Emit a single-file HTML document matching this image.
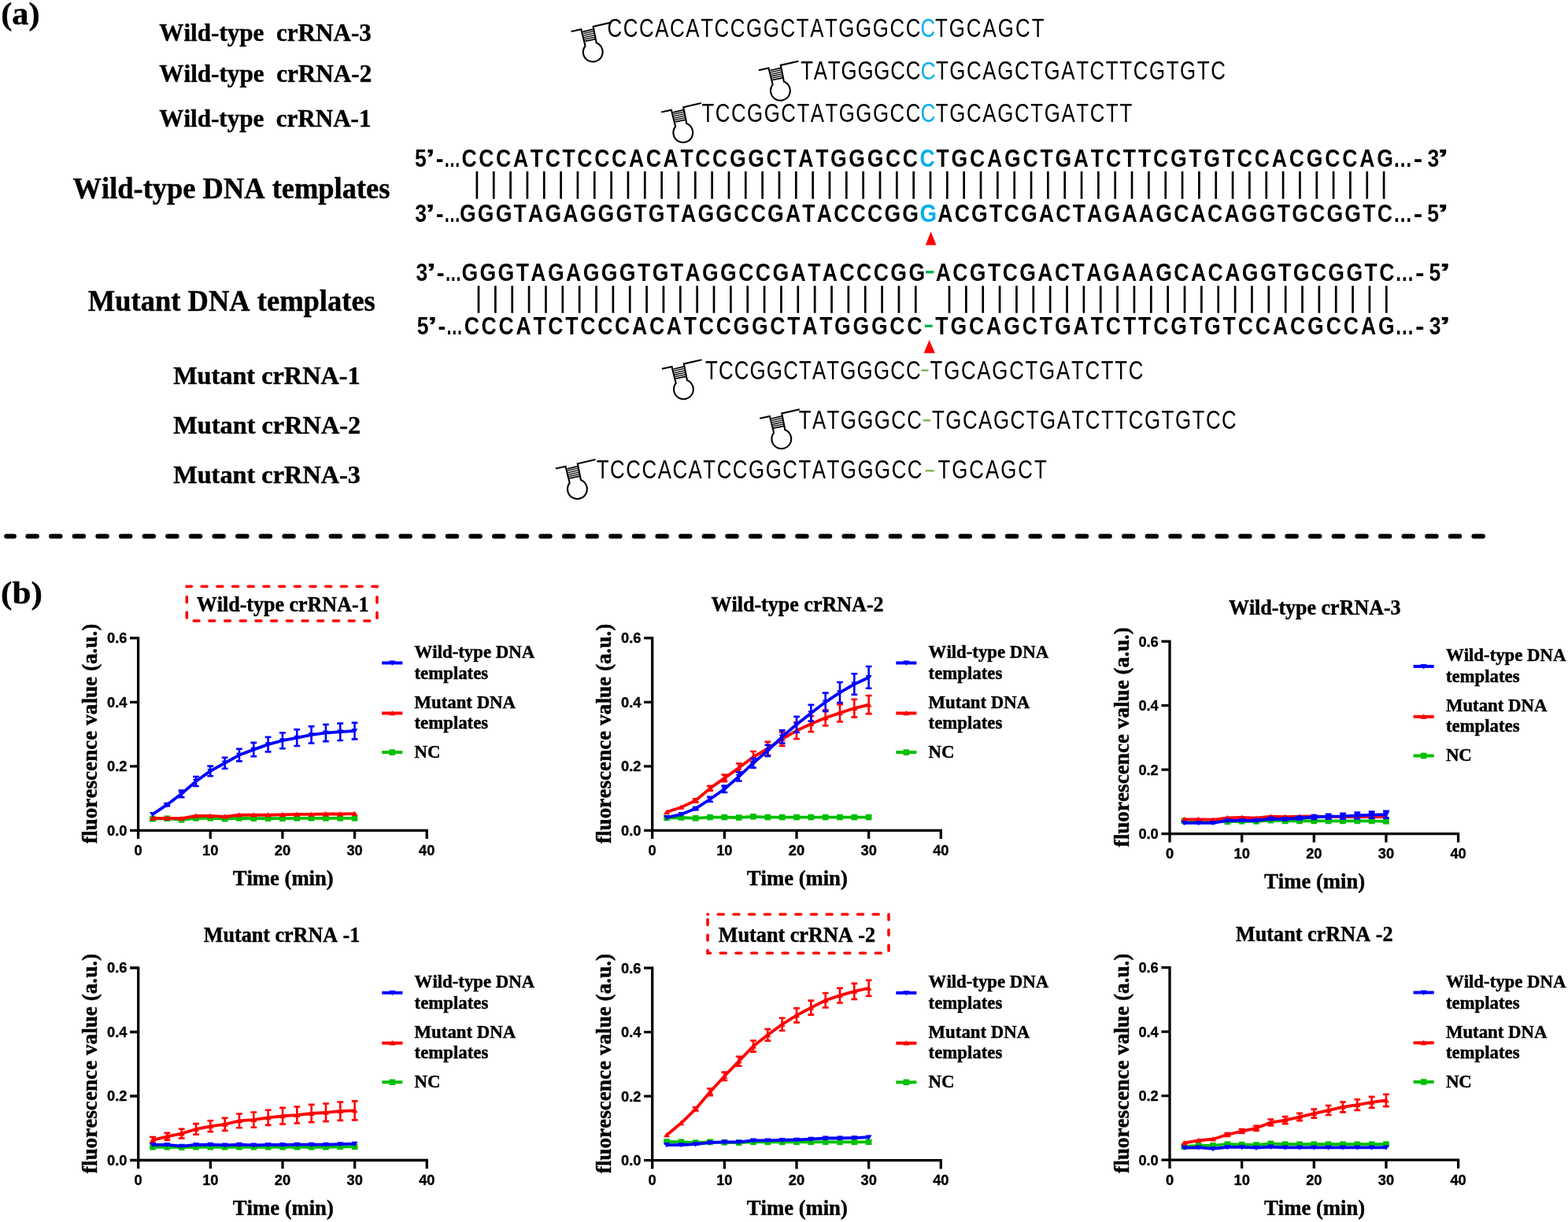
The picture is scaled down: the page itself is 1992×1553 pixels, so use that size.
<!DOCTYPE html><html><head><meta charset="utf-8"><title>crRNA figure</title>
<style>html,body{margin:0;padding:0;background:#fff;}svg{display:block;} text{font-kerning:none;font-variant-ligatures:none;font-feature-settings:"kern" 0,"liga" 0;} .sb{stroke:#000;stroke-width:0.45px;} .tb{stroke:#000;stroke-width:0.35px;}</style></head><body>
<svg width="1992" height="1553" viewBox="0 0 1992 1553">
<rect width="1992" height="1553" fill="#fff"/>
<text class="sb" transform="scale(1.06203,1)" x="1.07" y="30.5" font-family='"Liberation Serif", "Times New Roman", serif' font-size="40" font-weight="bold" fill="#000">(a)</text>
<text class="sb" transform="scale(0.95735,1)" x="211.37" y="51.6" font-family='"Liberation Serif", "Times New Roman", serif' font-size="32.5" font-weight="bold" fill="#000">Wild-type  crRNA-3</text>
<text class="sb" transform="scale(0.95833,1)" x="211.16" y="104.2" font-family='"Liberation Serif", "Times New Roman", serif' font-size="32.5" font-weight="bold" fill="#000">Wild-type  crRNA-2</text>
<text class="sb" transform="scale(0.95609,1)" x="211.65" y="160.6" font-family='"Liberation Serif", "Times New Roman", serif' font-size="32.5" font-weight="bold" fill="#000">Wild-type  crRNA-1</text>
<text class="sb" transform="scale(0.97219,1)" x="95.23" y="252.3" font-family='"Liberation Serif", "Times New Roman", serif' font-size="37.5" font-weight="bold" fill="#000">Wild-type DNA templates</text>
<text class="sb" transform="scale(0.97405,1)" x="114.75" y="394.8" font-family='"Liberation Serif", "Times New Roman", serif' font-size="37.5" font-weight="bold" fill="#000">Mutant DNA templates</text>
<text class="sb" transform="scale(0.99349,1)" x="221.59" y="488" font-family='"Liberation Serif", "Times New Roman", serif' font-size="32.5" font-weight="bold" fill="#000">Mutant crRNA-1</text>
<text class="sb" transform="scale(0.99609,1)" x="221.01" y="551.2" font-family='"Liberation Serif", "Times New Roman", serif' font-size="32.5" font-weight="bold" fill="#000">Mutant crRNA-2</text>
<text class="sb" transform="scale(0.99489,1)" x="221.28" y="614.4" font-family='"Liberation Serif", "Times New Roman", serif' font-size="32.5" font-weight="bold" fill="#000">Mutant crRNA-3</text>
<g transform="translate(776.3,28.6)" fill="none" stroke="#000" stroke-width="2.1" stroke-linejoin="miter">
<path d="M-50.7 11.5 L-38 8.6 L-33.2 27.9 L-32.9 29.9 A12.4 12.4 0 1 0 -18.6 25.95 L-22.7 5.1 L0 0"/>
<line x1="-35.9" y1="11.7" x2="-22.7" y2="8.6" stroke-width="1.7"/>
<line x1="-35.36" y1="14.12" x2="-22.08" y2="11.1" stroke-width="1.3"/>
<line x1="-34.82" y1="16.54" x2="-21.46" y2="13.6" stroke-width="1.3"/>
<line x1="-34.28" y1="18.96" x2="-20.84" y2="16.1" stroke-width="1.3"/>
<line x1="-33.74" y1="21.38" x2="-20.22" y2="18.6" stroke-width="1.3"/>
<line x1="-33.2" y1="23.8" x2="-19.6" y2="21.1" stroke-width="1.7"/>
</g>
<text transform="scale(0.80000,1)" x="964.36 989.69 1015.01 1040.34 1063.88 1089.21 1112.75 1134.48 1159.81 1185.13 1212.25 1239.38 1264.7 1286.43 1309.98 1331.71 1358.83 1385.95 1413.08 1438.4" y="46.6" font-family='"Liberation Sans", Arial, sans-serif' font-size="32.3" font-weight="normal" fill="#000">CCCACATCCGGCTATGGGCC</text>
<text transform="scale(0.79685,1)" x="1467.78" y="46.6" font-family='"Liberation Sans", Arial, sans-serif' font-size="32.3" font-weight="normal" fill="#00AEEF">C</text>
<text transform="scale(0.80000,1)" x="1484.9 1507.18 1534.86 1560.74 1584.83 1612.51 1638.39" y="46.6" font-family='"Liberation Sans", Arial, sans-serif' font-size="32.3" font-weight="normal" fill="#000">TGCAGCT</text>
<g transform="translate(1014.5,77.8)" fill="none" stroke="#000" stroke-width="2.1" stroke-linejoin="miter">
<path d="M-50.7 11.5 L-38 8.6 L-33.2 27.9 L-32.9 29.9 A12.4 12.4 0 1 0 -18.6 25.95 L-22.7 5.1 L0 0"/>
<line x1="-35.9" y1="11.7" x2="-22.7" y2="8.6" stroke-width="1.7"/>
<line x1="-35.36" y1="14.12" x2="-22.08" y2="11.1" stroke-width="1.3"/>
<line x1="-34.82" y1="16.54" x2="-21.46" y2="13.6" stroke-width="1.3"/>
<line x1="-34.28" y1="18.96" x2="-20.84" y2="16.1" stroke-width="1.3"/>
<line x1="-33.74" y1="21.38" x2="-20.22" y2="18.6" stroke-width="1.3"/>
<line x1="-33.2" y1="23.8" x2="-19.6" y2="21.1" stroke-width="1.7"/>
</g>
<text transform="scale(0.80000,1)" x="1271.52 1292.28 1314.85 1335.6 1361.75 1387.9 1414.05 1438.4" y="100.9" font-family='"Liberation Sans", Arial, sans-serif' font-size="32.3" font-weight="normal" fill="#000">TATGGGCC</text>
<text transform="scale(0.82618,1)" x="1415.61" y="100.9" font-family='"Liberation Sans", Arial, sans-serif' font-size="32.3" font-weight="normal" fill="#00AEEF">C</text>
<text transform="scale(0.80000,1)" x="1486.15 1507.91 1535.06 1560.41 1583.99 1611.14 1636.49 1658.25 1685.4 1708.97 1730.73 1756.09 1777.85 1799.6 1824.96 1852.11 1873.87 1901.02 1922.78" y="100.9" font-family='"Liberation Sans", Arial, sans-serif' font-size="32.3" font-weight="normal" fill="#000">TGCAGCTGATCTTCGTGTC</text>
<g transform="translate(890.9,131.1)" fill="none" stroke="#000" stroke-width="2.1" stroke-linejoin="miter">
<path d="M-50.7 11.5 L-38 8.6 L-33.2 27.9 L-32.9 29.9 A12.4 12.4 0 1 0 -18.6 25.95 L-22.7 5.1 L0 0"/>
<line x1="-35.9" y1="11.7" x2="-22.7" y2="8.6" stroke-width="1.7"/>
<line x1="-35.36" y1="14.12" x2="-22.08" y2="11.1" stroke-width="1.3"/>
<line x1="-34.82" y1="16.54" x2="-21.46" y2="13.6" stroke-width="1.3"/>
<line x1="-34.28" y1="18.96" x2="-20.84" y2="16.1" stroke-width="1.3"/>
<line x1="-33.74" y1="21.38" x2="-20.22" y2="18.6" stroke-width="1.3"/>
<line x1="-33.2" y1="23.8" x2="-19.6" y2="21.1" stroke-width="1.7"/>
</g>
<text transform="scale(0.80000,1)" x="1114.4 1136 1161.2 1186.4 1213.4 1240.39 1265.59 1287.2 1310.61 1332.21 1359.21 1386.21 1413.21 1438.4" y="155" font-family='"Liberation Sans", Arial, sans-serif' font-size="32.3" font-weight="normal" fill="#000">TCCGGCTATGGGCC</text>
<text transform="scale(0.81151,1)" x="1441.22" y="155" font-family='"Liberation Sans", Arial, sans-serif' font-size="32.3" font-weight="normal" fill="#00AEEF">C</text>
<text transform="scale(0.80000,1)" x="1485.9 1507.7 1534.9 1560.3 1583.92 1611.11 1636.51 1658.32 1685.51 1709.13 1730.93 1756.33 1778.14" y="155" font-family='"Liberation Sans", Arial, sans-serif' font-size="32.3" font-weight="normal" fill="#000">TGCAGCTGATCTT</text>
<g transform="translate(891.5,457.3)" fill="none" stroke="#000" stroke-width="2.1" stroke-linejoin="miter">
<path d="M-50.7 11.5 L-38 8.6 L-33.2 27.9 L-32.9 29.9 A12.4 12.4 0 1 0 -18.6 25.95 L-22.7 5.1 L0 0"/>
<line x1="-35.9" y1="11.7" x2="-22.7" y2="8.6" stroke-width="1.7"/>
<line x1="-35.36" y1="14.12" x2="-22.08" y2="11.1" stroke-width="1.3"/>
<line x1="-34.82" y1="16.54" x2="-21.46" y2="13.6" stroke-width="1.3"/>
<line x1="-34.28" y1="18.96" x2="-20.84" y2="16.1" stroke-width="1.3"/>
<line x1="-33.74" y1="21.38" x2="-20.22" y2="18.6" stroke-width="1.3"/>
<line x1="-33.2" y1="23.8" x2="-19.6" y2="21.1" stroke-width="1.7"/>
</g>
<text transform="scale(0.80000,1)" x="1119.9 1141.11 1165.91 1190.72 1217.32 1243.92 1268.73 1289.94 1312.96 1334.17 1360.77 1387.37 1413.97 1438.78" y="481.6" font-family='"Liberation Sans", Arial, sans-serif' font-size="32.3" font-weight="normal" fill="#000">TCCGGCTATGGGCC</text>
<rect x="1170.5" y="469.6" width="9" height="2.2" fill="#74AD4A"/>
<text transform="scale(0.80000,1)" x="1477.02 1498.92 1526.21 1551.7 1575.42 1602.71 1628.2 1650.1 1677.39 1701.1 1722.99 1748.49 1770.38 1792.28" y="481.6" font-family='"Liberation Sans", Arial, sans-serif' font-size="32.3" font-weight="normal" fill="#000">TGCAGCTGATCTTC</text>
<g transform="translate(1015.9,520.3)" fill="none" stroke="#000" stroke-width="2.1" stroke-linejoin="miter">
<path d="M-50.7 11.5 L-38 8.6 L-33.2 27.9 L-32.9 29.9 A12.4 12.4 0 1 0 -18.6 25.95 L-22.7 5.1 L0 0"/>
<line x1="-35.9" y1="11.7" x2="-22.7" y2="8.6" stroke-width="1.7"/>
<line x1="-35.36" y1="14.12" x2="-22.08" y2="11.1" stroke-width="1.3"/>
<line x1="-34.82" y1="16.54" x2="-21.46" y2="13.6" stroke-width="1.3"/>
<line x1="-34.28" y1="18.96" x2="-20.84" y2="16.1" stroke-width="1.3"/>
<line x1="-33.74" y1="21.38" x2="-20.22" y2="18.6" stroke-width="1.3"/>
<line x1="-33.2" y1="23.8" x2="-19.6" y2="21.1" stroke-width="1.7"/>
</g>
<text transform="scale(0.80000,1)" x="1268.4 1289.89 1313.19 1334.68 1361.56 1388.44 1415.32 1440.4" y="544.9" font-family='"Liberation Sans", Arial, sans-serif' font-size="32.3" font-weight="normal" fill="#000">TATGGGCC</text>
<rect x="1172.7" y="533.2" width="9.3" height="2.2" fill="#74AD4A"/>
<text transform="scale(0.80000,1)" x="1479.9 1501.57 1528.63 1553.89 1577.37 1604.43 1629.7 1651.36 1678.42 1701.91 1723.57 1748.84 1770.5 1792.17 1817.43 1844.5 1866.16 1893.22 1914.89 1940.15" y="544.9" font-family='"Liberation Sans", Arial, sans-serif' font-size="32.3" font-weight="normal" fill="#000">TGCAGCTGATCTTCGTGTCC</text>
<g transform="translate(756.5,584.1)" fill="none" stroke="#000" stroke-width="2.1" stroke-linejoin="miter">
<path d="M-50.7 11.5 L-38 8.6 L-33.2 27.9 L-32.9 29.9 A12.4 12.4 0 1 0 -18.6 25.95 L-22.7 5.1 L0 0"/>
<line x1="-35.9" y1="11.7" x2="-22.7" y2="8.6" stroke-width="1.7"/>
<line x1="-35.36" y1="14.12" x2="-22.08" y2="11.1" stroke-width="1.3"/>
<line x1="-34.82" y1="16.54" x2="-21.46" y2="13.6" stroke-width="1.3"/>
<line x1="-34.28" y1="18.96" x2="-20.84" y2="16.1" stroke-width="1.3"/>
<line x1="-33.74" y1="21.38" x2="-20.22" y2="18.6" stroke-width="1.3"/>
<line x1="-33.2" y1="23.8" x2="-19.6" y2="21.1" stroke-width="1.7"/>
</g>
<text transform="scale(0.80000,1)" x="947.27 968.9 994.13 1019.35 1044.58 1068.02 1093.24 1116.69 1138.32 1163.54 1188.77 1215.79 1242.81 1268.04 1289.66 1313.11 1334.74 1361.76 1388.78 1415.8 1441.03" y="608" font-family='"Liberation Sans", Arial, sans-serif' font-size="32.3" font-weight="normal" fill="#000">TCCCACATCCGGCTATGGGCC</text>
<rect x="1175.5" y="597.2" width="11.2" height="2.2" fill="#74AD4A"/>
<text transform="scale(0.80000,1)" x="1489.27 1511.52 1539.15 1564.99 1589.04 1616.67 1642.51" y="608" font-family='"Liberation Sans", Arial, sans-serif' font-size="32.3" font-weight="normal" fill="#000">TGCAGCT</text>
<text transform="scale(0.82905,1)" x="635.65" y="211.7" font-family='"Liberation Sans", Arial, sans-serif' font-size="32" font-weight="bold" fill="#000">5</text>
<text transform="scale(1.42955,1)" x="377.88" y="211.7" font-family='"Liberation Sans", Arial, sans-serif' font-size="32" font-weight="bold" fill="#000">’</text>
<text transform="scale(0.92308,1)" x="599.78" y="211.7" font-family='"Liberation Sans", Arial, sans-serif' font-size="32" font-weight="bold" fill="#000">-</text>
<text transform="scale(0.65971,1)" x="855.04" y="211.7" font-family='"Liberation Sans", Arial, sans-serif' font-size="32" font-weight="bold" fill="#000">…</text>
<text transform="scale(0.75625,1)" x="2340.41" y="211.7" font-family='"Liberation Sans", Arial, sans-serif' font-size="32" font-weight="bold" fill="#000">…</text>
<text transform="scale(1.08308,1)" x="1657.91" y="211.7" font-family='"Liberation Sans", Arial, sans-serif' font-size="32" font-weight="bold" fill="#000">-</text>
<text transform="scale(0.82986,1)" x="2185.17" y="211.7" font-family='"Liberation Sans", Arial, sans-serif' font-size="32" font-weight="bold" fill="#000">3</text>
<text transform="scale(1.78144,1)" x="1024.58" y="211.7" font-family='"Liberation Sans", Arial, sans-serif' font-size="32" font-weight="bold" fill="#000">’</text>
<text transform="scale(0.83000,1)" x="706.52 732.83 759.14 785.46 811.77 834.52 860.83 883.58 909.9 936.21 962.52 988.83 1015.15 1041.46 1064.21 1090.52 1116.83 1144.93 1173.02 1199.33 1222.08 1248.4 1271.15 1299.24 1327.33 1355.43 1381.74" y="211.7" font-family='"Liberation Sans", Arial, sans-serif' font-size="32" font-weight="bold" fill="#000">CCCATCTCCCACATCCGGCTATGGGCC</text>
<text transform="scale(0.82689,1)" x="1413.15" y="211.7" font-family='"Liberation Sans", Arial, sans-serif' font-size="32" font-weight="bold" fill="#00AEEF">C</text>
<text transform="scale(0.83000,1)" x="1433.13 1456.06 1484.32 1510.8 1537.29 1565.55 1592.04 1614.96 1643.22 1669.7 1692.63 1719.11 1742.03 1764.95 1791.43 1819.7 1842.62 1870.89 1893.81 1920.29 1946.77 1973.26 1999.74 2028 2054.49 2080.97 2107.46" y="211.7" font-family='"Liberation Sans", Arial, sans-serif' font-size="32" font-weight="bold" fill="#000">TGCAGCTGATCTTCGTGTCCACGCCAG</text>
<text transform="scale(0.82986,1)" x="635.27" y="281.8" font-family='"Liberation Sans", Arial, sans-serif' font-size="32" font-weight="bold" fill="#000">3</text>
<text transform="scale(1.42955,1)" x="377.88" y="281.8" font-family='"Liberation Sans", Arial, sans-serif' font-size="32" font-weight="bold" fill="#000">’</text>
<text transform="scale(0.92308,1)" x="599.78" y="281.8" font-family='"Liberation Sans", Arial, sans-serif' font-size="32" font-weight="bold" fill="#000">-</text>
<text transform="scale(0.65971,1)" x="855.04" y="281.8" font-family='"Liberation Sans", Arial, sans-serif' font-size="32" font-weight="bold" fill="#000">…</text>
<text transform="scale(0.75625,1)" x="2340.41" y="281.8" font-family='"Liberation Sans", Arial, sans-serif' font-size="32" font-weight="bold" fill="#000">…</text>
<text transform="scale(1.08308,1)" x="1657.91" y="281.8" font-family='"Liberation Sans", Arial, sans-serif' font-size="32" font-weight="bold" fill="#000">-</text>
<text transform="scale(0.82905,1)" x="2187.07" y="281.8" font-family='"Liberation Sans", Arial, sans-serif' font-size="32" font-weight="bold" fill="#000">5</text>
<text transform="scale(1.78144,1)" x="1024.58" y="281.8" font-family='"Liberation Sans", Arial, sans-serif' font-size="32" font-weight="bold" fill="#000">’</text>
<text transform="scale(0.83000,1)" x="703.51 731.07 758.64 786.21 808.43 834.22 861.79 887.57 915.14 942.71 970.27 992.5 1020.06 1042.29 1068.07 1095.64 1123.21 1149 1174.78 1202.35 1228.13 1250.36 1276.14 1301.93 1327.72 1353.5 1381.07" y="281.8" font-family='"Liberation Sans", Arial, sans-serif' font-size="32" font-weight="bold" fill="#000">GGGTAGAGGGTGTAGGCCGATACCCGG</text>
<text transform="scale(0.86599,1)" x="1349.28" y="281.8" font-family='"Liberation Sans", Arial, sans-serif' font-size="32" font-weight="bold" fill="#00AEEF">G</text>
<text transform="scale(0.83000,1)" x="1435.23 1461.04 1486.85 1514.45 1536.69 1562.51 1590.1 1615.91 1641.73 1663.98 1689.79 1717.38 1743.19 1769.01 1796.6 1822.41 1848.22 1874.04 1899.85 1927.44 1955.03 1977.28 2004.88 2030.69 2058.28 2085.88 2108.13" y="281.8" font-family='"Liberation Sans", Arial, sans-serif' font-size="32" font-weight="bold" fill="#000">ACGTCGACTAGAAGCACAGGTGCGGTC</text>
<text transform="scale(0.82986,1)" x="636.72" y="356.6" font-family='"Liberation Sans", Arial, sans-serif' font-size="32" font-weight="bold" fill="#000">3</text>
<text transform="scale(1.42955,1)" x="378.72" y="356.6" font-family='"Liberation Sans", Arial, sans-serif' font-size="32" font-weight="bold" fill="#000">’</text>
<text transform="scale(0.92308,1)" x="601.08" y="356.6" font-family='"Liberation Sans", Arial, sans-serif' font-size="32" font-weight="bold" fill="#000">-</text>
<text transform="scale(0.65971,1)" x="856.86" y="356.6" font-family='"Liberation Sans", Arial, sans-serif' font-size="32" font-weight="bold" fill="#000">…</text>
<text transform="scale(0.75625,1)" x="2343.58" y="356.6" font-family='"Liberation Sans", Arial, sans-serif' font-size="32" font-weight="bold" fill="#000">…</text>
<text transform="scale(1.08308,1)" x="1660.13" y="356.6" font-family='"Liberation Sans", Arial, sans-serif' font-size="32" font-weight="bold" fill="#000">-</text>
<text transform="scale(0.82905,1)" x="2189.96" y="356.6" font-family='"Liberation Sans", Arial, sans-serif' font-size="32" font-weight="bold" fill="#000">5</text>
<text transform="scale(1.78144,1)" x="1025.93" y="356.6" font-family='"Liberation Sans", Arial, sans-serif' font-size="32" font-weight="bold" fill="#000">’</text>
<text transform="scale(0.83000,1)" x="706.52 734.35 762.17 790 812.48 838.53 866.35 892.4 920.23 948.05 975.88 998.36 1026.19 1048.67 1074.72 1102.55 1130.37 1156.42 1182.46 1210.29 1236.34 1258.82 1284.87 1310.91 1336.96 1363 1390.83" y="356.6" font-family='"Liberation Sans", Arial, sans-serif' font-size="32" font-weight="bold" fill="#000">GGGTAGAGGGTGTAGGCCGATACCCGG</text>
<rect x="1176.1" y="344.1" width="10.2" height="3.4" fill="#00B050"/>
<text transform="scale(0.83000,1)" x="1432.09 1458.14 1484.19 1512.02 1534.51 1560.56 1588.39 1614.43 1640.48 1662.97 1689.02 1716.85 1742.9 1768.95 1796.77 1822.82 1848.87 1874.92 1900.97 1928.8 1956.63 1979.11 2006.94 2032.99 2060.82 2088.65 2111.14" y="356.6" font-family='"Liberation Sans", Arial, sans-serif' font-size="32" font-weight="bold" fill="#000">ACGTCGACTAGAAGCACAGGTGCGGTC</text>
<text transform="scale(0.82905,1)" x="639.03" y="425.3" font-family='"Liberation Sans", Arial, sans-serif' font-size="32" font-weight="bold" fill="#000">5</text>
<text transform="scale(1.42955,1)" x="379.84" y="425.3" font-family='"Liberation Sans", Arial, sans-serif' font-size="32" font-weight="bold" fill="#000">’</text>
<text transform="scale(0.92308,1)" x="602.82" y="425.3" font-family='"Liberation Sans", Arial, sans-serif' font-size="32" font-weight="bold" fill="#000">-</text>
<text transform="scale(0.65971,1)" x="859.29" y="425.3" font-family='"Liberation Sans", Arial, sans-serif' font-size="32" font-weight="bold" fill="#000">…</text>
<text transform="scale(0.75625,1)" x="2343.58" y="425.3" font-family='"Liberation Sans", Arial, sans-serif' font-size="32" font-weight="bold" fill="#000">…</text>
<text transform="scale(1.08308,1)" x="1660.13" y="425.3" font-family='"Liberation Sans", Arial, sans-serif' font-size="32" font-weight="bold" fill="#000">-</text>
<text transform="scale(0.82986,1)" x="2188.06" y="425.3" font-family='"Liberation Sans", Arial, sans-serif' font-size="32" font-weight="bold" fill="#000">3</text>
<text transform="scale(1.78144,1)" x="1025.93" y="425.3" font-family='"Liberation Sans", Arial, sans-serif' font-size="32" font-weight="bold" fill="#000">’</text>
<text transform="scale(0.83000,1)" x="710.49 736.9 763.31 789.72 816.13 838.98 865.39 888.24 914.65 941.06 967.47 993.88 1020.29 1046.7 1069.55 1095.96 1122.37 1150.56 1178.75 1205.16 1228.01 1254.42 1277.26 1305.46 1333.65 1361.84 1388.25" y="425.3" font-family='"Liberation Sans", Arial, sans-serif' font-size="32" font-weight="bold" fill="#000">CCCATCTCCCACATCCGGCTATGGGCC</text>
<rect x="1174.8" y="412.6" width="9.8" height="3.4" fill="#00B050"/>
<text transform="scale(0.83000,1)" x="1431.69 1454.75 1483.15 1509.78 1536.4 1564.8 1591.42 1614.48 1642.89 1669.51 1692.57 1719.19 1742.25 1765.31 1791.94 1820.34 1843.4 1871.8 1894.86 1921.49 1948.11 1974.73 2001.35 2029.76 2056.38 2083 2109.62" y="425.3" font-family='"Liberation Sans", Arial, sans-serif' font-size="32" font-weight="bold" fill="#000">TGCAGCTGATCTTCGTGTCCACGCCAG</text>
<path d="M605.9 217.8V252.8M627.24 217.8V252.8M648.57 217.8V252.8M669.91 217.8V252.8M691.25 217.8V252.8M712.59 217.8V252.8M733.92 217.8V252.8M755.26 217.8V252.8M776.6 217.8V252.8M797.93 217.8V252.8M819.27 217.8V252.8M840.61 217.8V252.8M861.94 217.8V252.8M883.28 217.8V252.8M904.62 217.8V252.8M925.96 217.8V252.8M947.29 217.8V252.8M968.63 217.8V252.8M989.97 217.8V252.8M1011.3 217.8V252.8M1032.64 217.8V252.8M1053.98 217.8V252.8M1075.31 217.8V252.8M1096.65 217.8V252.8M1117.99 217.8V252.8M1139.33 217.8V252.8M1160.66 217.8V252.8M1182 217.8V252.8M1203.34 217.8V252.8M1224.67 217.8V252.8M1246.01 217.8V252.8M1267.35 217.8V252.8M1288.69 217.8V252.8M1310.02 217.8V252.8M1331.36 217.8V252.8M1352.7 217.8V252.8M1374.03 217.8V252.8M1395.37 217.8V252.8M1416.71 217.8V252.8M1438.04 217.8V252.8M1459.38 217.8V252.8M1480.72 217.8V252.8M1502.06 217.8V252.8M1523.39 217.8V252.8M1544.73 217.8V252.8M1566.07 217.8V252.8M1587.4 217.8V252.8M1608.74 217.8V252.8M1630.08 217.8V252.8M1651.41 217.8V252.8M1672.75 217.8V252.8M1694.09 217.8V252.8M1715.43 217.8V252.8M1736.76 217.8V252.8M1758.1 217.8V252.8" stroke="#000" stroke-width="2.7" fill="none"/>
<path d="M608 363.2V397.8M629.36 363.2V397.8M650.71 363.2V397.8M672.07 363.2V397.8M693.43 363.2V397.8M714.79 363.2V397.8M736.14 363.2V397.8M757.5 363.2V397.8M778.86 363.2V397.8M800.22 363.2V397.8M821.57 363.2V397.8M842.93 363.2V397.8M864.29 363.2V397.8M885.65 363.2V397.8M907 363.2V397.8M928.36 363.2V397.8M949.72 363.2V397.8M971.08 363.2V397.8M992.43 363.2V397.8M1013.79 363.2V397.8M1035.15 363.2V397.8M1056.51 363.2V397.8M1077.86 363.2V397.8M1099.22 363.2V397.8M1120.58 363.2V397.8M1141.94 363.2V397.8M1163.29 363.2V397.8M1206.01 363.2V397.8M1227.36 363.2V397.8M1248.72 363.2V397.8M1270.08 363.2V397.8M1291.44 363.2V397.8M1312.79 363.2V397.8M1334.15 363.2V397.8M1355.51 363.2V397.8M1376.87 363.2V397.8M1398.22 363.2V397.8M1419.58 363.2V397.8M1440.94 363.2V397.8M1462.3 363.2V397.8M1483.65 363.2V397.8M1505.01 363.2V397.8M1526.37 363.2V397.8M1547.73 363.2V397.8M1569.08 363.2V397.8M1590.44 363.2V397.8M1611.8 363.2V397.8M1633.16 363.2V397.8M1654.51 363.2V397.8M1675.87 363.2V397.8M1697.23 363.2V397.8M1718.59 363.2V397.8M1739.94 363.2V397.8M1761.3 363.2V397.8" stroke="#000" stroke-width="2.7" fill="none"/>
<path d="M1182.5 294.2 L1189.5 311.6 L1175.9 311.6Z" fill="#FF0000"/>
<path d="M1180.6 432.1 L1187.9 448.7 L1173.6 448.7Z" fill="#FF0000"/>
<path d="M8.1 681.5H18M35.3 681.5H47M64.93 681.5H76.63M94.56 681.5H106.26M124.19 681.5H135.89M153.82 681.5H165.52M183.45 681.5H195.15M213.07 681.5H224.77M242.7 681.5H254.4M272.33 681.5H284.03M301.96 681.5H313.66M331.59 681.5H343.29M361.22 681.5H372.92M390.85 681.5H402.55M420.48 681.5H432.18M450.11 681.5H461.81M479.74 681.5H491.44M509.36 681.5H521.06M538.99 681.5H550.69M568.62 681.5H580.32M598.25 681.5H609.95M627.88 681.5H639.58M657.51 681.5H669.21M687.14 681.5H698.84M716.77 681.5H728.47M746.4 681.5H758.1M776.03 681.5H787.73M805.65 681.5H817.35M835.28 681.5H846.98M864.91 681.5H876.61M894.54 681.5H906.24M924.17 681.5H935.87M953.8 681.5H965.5M983.43 681.5H995.13M1013.06 681.5H1024.76M1042.69 681.5H1054.39M1072.32 681.5H1084.02M1101.95 681.5H1113.65M1131.57 681.5H1143.27M1161.2 681.5H1172.9M1190.83 681.5H1202.53M1220.46 681.5H1232.16M1250.09 681.5H1261.79M1279.72 681.5H1291.42M1309.35 681.5H1321.05M1338.98 681.5H1350.68M1368.61 681.5H1380.31M1398.24 681.5H1409.94M1427.86 681.5H1439.56M1457.49 681.5H1469.19M1487.12 681.5H1498.82M1516.75 681.5H1528.45M1546.38 681.5H1558.08M1576.01 681.5H1587.71M1605.64 681.5H1617.34M1635.27 681.5H1646.97M1664.9 681.5H1676.6M1694.53 681.5H1706.23M1724.15 681.5H1735.85M1753.78 681.5H1765.48M1783.41 681.5H1795.11M1813.04 681.5H1824.74M1842.67 681.5H1854.37M1872.3 681.5H1884" stroke="#000" stroke-width="5.8" stroke-linecap="round" fill="none"/>
<g>
<text class="sb" transform="scale(1.07998,1)" x="1.02" y="767" font-family='"Liberation Serif", "Times New Roman", serif' font-size="40" font-weight="bold" fill="#000">(b)</text>
<rect x="237.3" y="745.2" width="241.7" height="43.8" fill="none" stroke="#FF0000" stroke-width="3.6" stroke-dasharray="6.9 12.8" stroke-dashoffset="0.8" stroke-linecap="round"/>
<text class="sb" transform="scale(0.94256,1)" x="265.06" y="777.1" font-family='"Liberation Serif", "Times New Roman", serif' font-size="27.6" font-weight="bold" fill="#000">Wild-type crRNA-1</text>
<path d="M175.6 809.2V1066.1M165 1055.3H543.8M165 973.8H175.6M165 892.3H175.6M165 810.8H175.6M267.25 1055.3V1066.1M358.9 1055.3V1066.1M450.55 1055.3V1066.1M542.2 1055.3V1066.1" stroke="#000" stroke-width="3.3" fill="none"/>
<text class="tb" x="161.4" y="1061.75" text-anchor="end" font-family='"Liberation Sans", Arial, sans-serif' font-size="18.3" font-weight="bold">0.0</text>
<text class="tb" x="161.4" y="980.25" text-anchor="end" font-family='"Liberation Sans", Arial, sans-serif' font-size="18.3" font-weight="bold">0.2</text>
<text class="tb" x="161.4" y="898.75" text-anchor="end" font-family='"Liberation Sans", Arial, sans-serif' font-size="18.3" font-weight="bold">0.4</text>
<text class="tb" x="161.4" y="817.25" text-anchor="end" font-family='"Liberation Sans", Arial, sans-serif' font-size="18.3" font-weight="bold">0.6</text>
<text class="tb" x="175.6" y="1086.7" text-anchor="middle" font-family='"Liberation Sans", Arial, sans-serif' font-size="18.3" font-weight="bold">0</text>
<text class="tb" x="267.25" y="1086.7" text-anchor="middle" font-family='"Liberation Sans", Arial, sans-serif' font-size="18.3" font-weight="bold">10</text>
<text class="tb" x="358.9" y="1086.7" text-anchor="middle" font-family='"Liberation Sans", Arial, sans-serif' font-size="18.3" font-weight="bold">20</text>
<text class="tb" x="450.55" y="1086.7" text-anchor="middle" font-family='"Liberation Sans", Arial, sans-serif' font-size="18.3" font-weight="bold">30</text>
<text class="tb" x="542.2" y="1086.7" text-anchor="middle" font-family='"Liberation Sans", Arial, sans-serif' font-size="18.3" font-weight="bold">40</text>
<text class="sb" transform="translate(123.2,1071.8) rotate(-90) scale(0.99965,1)" x="-0.2" y="0" font-family='"Liberation Serif", "Times New Roman", serif' font-size="27.2" font-weight="bold">fluorescence value (a.u.)</text>
<text class="sb" transform="scale(0.95896,1)" x="308.34" y="1124.8" font-family='"Liberation Serif", "Times New Roman", serif' font-size="27.8" font-weight="bold" fill="#000">Time (min)</text>
<path d="M485.2 842.5H511.3" stroke="#0000FF" stroke-width="4"/>
<path d="M494.25 839.62h8l-4 6.4z" fill="#0000FF"/>
<path d="M485.2 906.4H511.3" stroke="#FF0000" stroke-width="4"/>
<path d="M494.25 909.28h8l-4 -6.4z" fill="#FF0000"/>
<path d="M485.2 956.1H511.3" stroke="#00BF00" stroke-width="4"/>
<rect x="494.45" y="952.3" width="7.6" height="7.6" fill="#00BF00"/>
<text class="sb" x="526.5" y="836" font-family='"Liberation Serif", "Times New Roman", serif' font-size="22.8" font-weight="bold">Wild-type DNA</text>
<text class="sb" x="526.5" y="862.7" font-family='"Liberation Serif", "Times New Roman", serif' font-size="22.8" font-weight="bold">templates</text>
<text class="sb" x="526.5" y="899.8" font-family='"Liberation Serif", "Times New Roman", serif' font-size="22.8" font-weight="bold">Mutant DNA</text>
<text class="sb" x="526.5" y="925.9" font-family='"Liberation Serif", "Times New Roman", serif' font-size="22.8" font-weight="bold">templates</text>
<text class="sb" x="526.5" y="963" font-family='"Liberation Serif", "Times New Roman", serif' font-size="22.8" font-weight="bold">NC</text>
<polyline points="193.93,1040.63 212.26,1040.22 230.59,1041.85 248.92,1039.82 267.25,1039.82 285.58,1040.63 303.91,1039.82 322.24,1040.22 340.57,1040.22 358.9,1040.22 377.23,1039.82 395.56,1039.82 413.89,1039.82 432.22,1039.82 450.55,1039.82" fill="none" stroke="#00BF00" stroke-width="3.8" stroke-linejoin="round" stroke-linecap="butt"/>
<rect x="190.13" y="1036.83" width="7.6" height="7.6" fill="#00BF00"/><rect x="208.46" y="1036.42" width="7.6" height="7.6" fill="#00BF00"/><rect x="226.79" y="1038.05" width="7.6" height="7.6" fill="#00BF00"/><rect x="245.12" y="1036.02" width="7.6" height="7.6" fill="#00BF00"/><rect x="263.45" y="1036.02" width="7.6" height="7.6" fill="#00BF00"/><rect x="281.78" y="1036.83" width="7.6" height="7.6" fill="#00BF00"/><rect x="300.11" y="1036.02" width="7.6" height="7.6" fill="#00BF00"/><rect x="318.44" y="1036.42" width="7.6" height="7.6" fill="#00BF00"/><rect x="336.77" y="1036.42" width="7.6" height="7.6" fill="#00BF00"/><rect x="355.1" y="1036.42" width="7.6" height="7.6" fill="#00BF00"/><rect x="373.43" y="1036.02" width="7.6" height="7.6" fill="#00BF00"/><rect x="391.76" y="1036.02" width="7.6" height="7.6" fill="#00BF00"/><rect x="410.09" y="1036.02" width="7.6" height="7.6" fill="#00BF00"/><rect x="428.42" y="1036.02" width="7.6" height="7.6" fill="#00BF00"/><rect x="446.75" y="1036.02" width="7.6" height="7.6" fill="#00BF00"/>
<polyline points="193.93,1039.82 212.26,1039.82 230.59,1040.22 248.92,1036.96 267.25,1036.96 285.58,1037.78 303.91,1035.74 322.24,1035.74 340.57,1035.74 358.9,1035.33 377.23,1034.92 395.56,1034.92 413.89,1034.52 432.22,1034.52 450.55,1034.11" fill="none" stroke="#FF0000" stroke-width="3.8" stroke-linejoin="round" stroke-linecap="butt"/>
<path d="M189.93 1042.7h8l-4 -6.4z" fill="#FF0000"/><path d="M208.26 1042.7h8l-4 -6.4z" fill="#FF0000"/><path d="M226.59 1043.1h8l-4 -6.4z" fill="#FF0000"/><path d="M244.92 1039.84h8l-4 -6.4z" fill="#FF0000"/><path d="M263.25 1039.84h8l-4 -6.4z" fill="#FF0000"/><path d="M281.58 1040.66h8l-4 -6.4z" fill="#FF0000"/><path d="M299.91 1038.62h8l-4 -6.4z" fill="#FF0000"/><path d="M318.24 1038.62h8l-4 -6.4z" fill="#FF0000"/><path d="M336.57 1038.62h8l-4 -6.4z" fill="#FF0000"/><path d="M354.9 1038.21h8l-4 -6.4z" fill="#FF0000"/><path d="M373.23 1037.81h8l-4 -6.4z" fill="#FF0000"/><path d="M391.56 1037.81h8l-4 -6.4z" fill="#FF0000"/><path d="M409.89 1037.4h8l-4 -6.4z" fill="#FF0000"/><path d="M428.22 1037.4h8l-4 -6.4z" fill="#FF0000"/><path d="M446.55 1036.99h8l-4 -6.4z" fill="#FF0000"/>
<path d="M212.26 1021.2V1024.2M208.36 1021.2h7.8M208.36 1024.2h7.8M230.59 1004.54V1013.14M226.69 1004.54h7.8M226.69 1013.14h7.8M248.92 986.95V998.95M245.02 986.95h7.8M245.02 998.95h7.8M267.25 973.61V986.21M263.35 973.61h7.8M263.35 986.21h7.8M285.58 962.72V976.72M281.68 962.72h7.8M281.68 976.72h7.8M303.91 951.74V967.34M300.01 951.74h7.8M300.01 967.34h7.8M322.24 943.91V961.31M318.34 943.91h7.8M318.34 961.31h7.8M340.57 936.79V955.39M336.67 936.79h7.8M336.67 955.39h7.8M358.9 931.2V951.2M355 931.2h7.8M355 951.2h7.8M377.23 927.13V947.93M373.33 927.13h7.8M373.33 947.93h7.8M395.56 923.16V944.57M391.66 923.16h7.8M391.66 944.57h7.8M413.89 920.72V942.12M409.99 920.72h7.8M409.99 942.12h7.8M432.22 919.4V941M428.32 919.4h7.8M428.32 941h7.8M450.55 918.57V939.37M446.65 918.57h7.8M446.65 939.37h7.8" stroke="#0000FF" stroke-width="2.6" fill="none"/>
<polyline points="193.93,1034.92 212.26,1022.7 230.59,1008.84 248.92,992.95 267.25,979.91 285.58,969.72 303.91,959.54 322.24,952.61 340.57,946.09 358.9,941.2 377.23,937.53 395.56,933.87 413.89,931.42 432.22,930.2 450.55,928.97" fill="none" stroke="#0000FF" stroke-width="3.8" stroke-linejoin="round" stroke-linecap="butt"/>
<path d="M189.93 1032.04h8l-4 6.4z" fill="#0000FF"/><path d="M208.26 1019.82h8l-4 6.4z" fill="#0000FF"/><path d="M226.59 1005.96h8l-4 6.4z" fill="#0000FF"/><path d="M244.92 990.07h8l-4 6.4z" fill="#0000FF"/><path d="M263.25 977.03h8l-4 6.4z" fill="#0000FF"/><path d="M281.58 966.84h8l-4 6.4z" fill="#0000FF"/><path d="M299.91 956.66h8l-4 6.4z" fill="#0000FF"/><path d="M318.24 949.73h8l-4 6.4z" fill="#0000FF"/><path d="M336.57 943.21h8l-4 6.4z" fill="#0000FF"/><path d="M354.9 938.32h8l-4 6.4z" fill="#0000FF"/><path d="M373.23 934.65h8l-4 6.4z" fill="#0000FF"/><path d="M391.56 930.99h8l-4 6.4z" fill="#0000FF"/><path d="M409.89 928.54h8l-4 6.4z" fill="#0000FF"/><path d="M428.22 927.32h8l-4 6.4z" fill="#0000FF"/><path d="M446.55 926.09h8l-4 6.4z" fill="#0000FF"/>
<text class="sb" transform="scale(0.94417,1)" x="956.85" y="776.9" font-family='"Liberation Serif", "Times New Roman", serif' font-size="27.6" font-weight="bold" fill="#000">Wild-type crRNA-2</text>
<path d="M828.7 809.2V1066.1M818.1 1055.3H1196.9M818.1 973.8H828.7M818.1 892.3H828.7M818.1 810.8H828.7M920.35 1055.3V1066.1M1012 1055.3V1066.1M1103.65 1055.3V1066.1M1195.3 1055.3V1066.1" stroke="#000" stroke-width="3.3" fill="none"/>
<text class="tb" x="814.5" y="1061.75" text-anchor="end" font-family='"Liberation Sans", Arial, sans-serif' font-size="18.3" font-weight="bold">0.0</text>
<text class="tb" x="814.5" y="980.25" text-anchor="end" font-family='"Liberation Sans", Arial, sans-serif' font-size="18.3" font-weight="bold">0.2</text>
<text class="tb" x="814.5" y="898.75" text-anchor="end" font-family='"Liberation Sans", Arial, sans-serif' font-size="18.3" font-weight="bold">0.4</text>
<text class="tb" x="814.5" y="817.25" text-anchor="end" font-family='"Liberation Sans", Arial, sans-serif' font-size="18.3" font-weight="bold">0.6</text>
<text class="tb" x="828.7" y="1086.7" text-anchor="middle" font-family='"Liberation Sans", Arial, sans-serif' font-size="18.3" font-weight="bold">0</text>
<text class="tb" x="920.35" y="1086.7" text-anchor="middle" font-family='"Liberation Sans", Arial, sans-serif' font-size="18.3" font-weight="bold">10</text>
<text class="tb" x="1012" y="1086.7" text-anchor="middle" font-family='"Liberation Sans", Arial, sans-serif' font-size="18.3" font-weight="bold">20</text>
<text class="tb" x="1103.65" y="1086.7" text-anchor="middle" font-family='"Liberation Sans", Arial, sans-serif' font-size="18.3" font-weight="bold">30</text>
<text class="tb" x="1195.3" y="1086.7" text-anchor="middle" font-family='"Liberation Sans", Arial, sans-serif' font-size="18.3" font-weight="bold">40</text>
<text class="sb" transform="translate(776.3,1071.8) rotate(-90) scale(0.99965,1)" x="-0.2" y="0" font-family='"Liberation Serif", "Times New Roman", serif' font-size="27.2" font-weight="bold">fluorescence value (a.u.)</text>
<text class="sb" transform="scale(0.95896,1)" x="989.39" y="1124.8" font-family='"Liberation Serif", "Times New Roman", serif' font-size="27.8" font-weight="bold" fill="#000">Time (min)</text>
<path d="M1138.3 842.5H1164.4" stroke="#0000FF" stroke-width="4"/>
<path d="M1147.35 839.62h8l-4 6.4z" fill="#0000FF"/>
<path d="M1138.3 906.4H1164.4" stroke="#FF0000" stroke-width="4"/>
<path d="M1147.35 909.28h8l-4 -6.4z" fill="#FF0000"/>
<path d="M1138.3 956.1H1164.4" stroke="#00BF00" stroke-width="4"/>
<rect x="1147.55" y="952.3" width="7.6" height="7.6" fill="#00BF00"/>
<text class="sb" x="1179.6" y="836" font-family='"Liberation Serif", "Times New Roman", serif' font-size="22.8" font-weight="bold">Wild-type DNA</text>
<text class="sb" x="1179.6" y="862.7" font-family='"Liberation Serif", "Times New Roman", serif' font-size="22.8" font-weight="bold">templates</text>
<text class="sb" x="1179.6" y="899.8" font-family='"Liberation Serif", "Times New Roman", serif' font-size="22.8" font-weight="bold">Mutant DNA</text>
<text class="sb" x="1179.6" y="925.9" font-family='"Liberation Serif", "Times New Roman", serif' font-size="22.8" font-weight="bold">templates</text>
<text class="sb" x="1179.6" y="963" font-family='"Liberation Serif", "Times New Roman", serif' font-size="22.8" font-weight="bold">NC</text>
<polyline points="847.03,1039.41 865.36,1039 883.69,1039.82 902.02,1038.59 920.35,1038.59 938.68,1039 957.01,1037.78 975.34,1038.59 993.67,1038.59 1012,1038.59 1030.33,1038.59 1048.66,1038.59 1066.99,1038.59 1085.32,1038.59 1103.65,1038.59" fill="none" stroke="#00BF00" stroke-width="3.8" stroke-linejoin="round" stroke-linecap="butt"/>
<rect x="843.23" y="1035.61" width="7.6" height="7.6" fill="#00BF00"/><rect x="861.56" y="1035.2" width="7.6" height="7.6" fill="#00BF00"/><rect x="879.89" y="1036.02" width="7.6" height="7.6" fill="#00BF00"/><rect x="898.22" y="1034.79" width="7.6" height="7.6" fill="#00BF00"/><rect x="916.55" y="1034.79" width="7.6" height="7.6" fill="#00BF00"/><rect x="934.88" y="1035.2" width="7.6" height="7.6" fill="#00BF00"/><rect x="953.21" y="1033.98" width="7.6" height="7.6" fill="#00BF00"/><rect x="971.54" y="1034.79" width="7.6" height="7.6" fill="#00BF00"/><rect x="989.87" y="1034.79" width="7.6" height="7.6" fill="#00BF00"/><rect x="1008.2" y="1034.79" width="7.6" height="7.6" fill="#00BF00"/><rect x="1026.53" y="1034.79" width="7.6" height="7.6" fill="#00BF00"/><rect x="1044.86" y="1034.79" width="7.6" height="7.6" fill="#00BF00"/><rect x="1063.19" y="1034.79" width="7.6" height="7.6" fill="#00BF00"/><rect x="1081.52" y="1034.79" width="7.6" height="7.6" fill="#00BF00"/><rect x="1099.85" y="1034.79" width="7.6" height="7.6" fill="#00BF00"/>
<path d="M883.69 1015.4V1019.4M879.79 1015.4h7.8M879.79 1019.4h7.8M902.02 998.92V1004.92M898.12 998.92h7.8M898.12 1004.92h7.8M920.35 984.58V993.18M916.45 984.58h7.8M916.45 993.18h7.8M938.68 970.24V981.44M934.78 970.24h7.8M934.78 981.44h7.8M957.01 954.98V968.98M953.11 954.98h7.8M953.11 968.98h7.8M975.34 942.69V960.09M971.44 942.69h7.8M971.44 960.09h7.8M993.67 930.46V947.86M989.77 930.46h7.8M989.77 947.86h7.8M1012 918.17V938.97M1008.1 918.17h7.8M1008.1 938.97h7.8M1030.33 910.01V930.01M1026.43 910.01h7.8M1026.43 930.01h7.8M1048.66 902.27V922.27M1044.76 902.27h7.8M1044.76 922.27h7.8M1066.99 895.15V917.15M1063.09 895.15h7.8M1063.09 917.15h7.8M1085.32 888.74V911.34M1081.42 888.74h7.8M1081.42 911.34h7.8M1103.65 883.96V907.16M1099.75 883.96h7.8M1099.75 907.16h7.8" stroke="#FF0000" stroke-width="2.6" fill="none"/>
<polyline points="847.03,1032.07 865.36,1025.96 883.69,1017.4 902.02,1001.92 920.35,988.88 938.68,975.84 957.01,961.98 975.34,951.39 993.67,939.16 1012,928.57 1030.33,920.01 1048.66,912.27 1066.99,906.15 1085.32,900.04 1103.65,895.56" fill="none" stroke="#FF0000" stroke-width="3.8" stroke-linejoin="round" stroke-linecap="butt"/>
<path d="M843.03 1034.95h8l-4 -6.4z" fill="#FF0000"/><path d="M861.36 1028.84h8l-4 -6.4z" fill="#FF0000"/><path d="M879.69 1020.28h8l-4 -6.4z" fill="#FF0000"/><path d="M898.02 1004.8h8l-4 -6.4z" fill="#FF0000"/><path d="M916.35 991.76h8l-4 -6.4z" fill="#FF0000"/><path d="M934.68 978.72h8l-4 -6.4z" fill="#FF0000"/><path d="M953.01 964.86h8l-4 -6.4z" fill="#FF0000"/><path d="M971.34 954.27h8l-4 -6.4z" fill="#FF0000"/><path d="M989.67 942.04h8l-4 -6.4z" fill="#FF0000"/><path d="M1008 931.45h8l-4 -6.4z" fill="#FF0000"/><path d="M1026.33 922.89h8l-4 -6.4z" fill="#FF0000"/><path d="M1044.66 915.15h8l-4 -6.4z" fill="#FF0000"/><path d="M1062.99 909.03h8l-4 -6.4z" fill="#FF0000"/><path d="M1081.32 902.92h8l-4 -6.4z" fill="#FF0000"/><path d="M1099.65 898.44h8l-4 -6.4z" fill="#FF0000"/>
<path d="M883.69 1026.09V1029.09M879.79 1026.09h7.8M879.79 1029.09h7.8M902.02 1012.77V1018.77M898.12 1012.77h7.8M898.12 1018.77h7.8M920.35 998.43V1007.03M916.45 998.43h7.8M916.45 1007.03h7.8M938.68 981.24V992.44M934.78 981.24h7.8M934.78 992.44h7.8M957.01 963.72V975.72M953.11 963.72h7.8M953.11 975.72h7.8M975.34 946.73V960.93M971.44 946.73h7.8M971.44 960.93h7.8M993.67 928.11V944.51M989.77 928.11h7.8M989.77 944.51h7.8M1012 910.82V930.82M1008.1 910.82h7.8M1008.1 930.82h7.8M1030.33 895.75V916.55M1026.43 895.75h7.8M1026.43 916.55h7.8M1048.66 880.6V904M1044.76 880.6h7.8M1044.76 904h7.8M1066.99 867.07V893.07M1063.09 867.07h7.8M1063.09 893.07h7.8M1085.32 856.28V882.68M1081.42 856.28h7.8M1081.42 882.68h7.8M1103.65 847.02V874.82M1099.75 847.02h7.8M1099.75 874.82h7.8" stroke="#0000FF" stroke-width="2.6" fill="none"/>
<polyline points="847.03,1039 865.36,1034.92 883.69,1027.59 902.02,1015.77 920.35,1002.73 938.68,986.84 957.01,969.72 975.34,953.83 993.67,936.31 1012,920.82 1030.33,906.15 1048.66,892.3 1066.99,880.07 1085.32,869.48 1103.65,860.92" fill="none" stroke="#0000FF" stroke-width="3.8" stroke-linejoin="round" stroke-linecap="butt"/>
<path d="M843.03 1036.12h8l-4 6.4z" fill="#0000FF"/><path d="M861.36 1032.04h8l-4 6.4z" fill="#0000FF"/><path d="M879.69 1024.71h8l-4 6.4z" fill="#0000FF"/><path d="M898.02 1012.89h8l-4 6.4z" fill="#0000FF"/><path d="M916.35 999.85h8l-4 6.4z" fill="#0000FF"/><path d="M934.68 983.96h8l-4 6.4z" fill="#0000FF"/><path d="M953.01 966.84h8l-4 6.4z" fill="#0000FF"/><path d="M971.34 950.95h8l-4 6.4z" fill="#0000FF"/><path d="M989.67 933.43h8l-4 6.4z" fill="#0000FF"/><path d="M1008 917.94h8l-4 6.4z" fill="#0000FF"/><path d="M1026.33 903.27h8l-4 6.4z" fill="#0000FF"/><path d="M1044.66 889.42h8l-4 6.4z" fill="#0000FF"/><path d="M1062.99 877.19h8l-4 6.4z" fill="#0000FF"/><path d="M1081.32 866.6h8l-4 6.4z" fill="#0000FF"/><path d="M1099.65 858.04h8l-4 6.4z" fill="#0000FF"/>
<text class="sb" transform="scale(0.94188,1)" x="1657.25" y="781.4" font-family='"Liberation Serif", "Times New Roman", serif' font-size="27.6" font-weight="bold" fill="#000">Wild-type crRNA-3</text>
<path d="M1486 813.6V1070.5M1475.4 1059.7H1854.2M1475.4 978.2H1486M1475.4 896.7H1486M1475.4 815.2H1486M1577.65 1059.7V1070.5M1669.3 1059.7V1070.5M1760.95 1059.7V1070.5M1852.6 1059.7V1070.5" stroke="#000" stroke-width="3.3" fill="none"/>
<text class="tb" x="1471.8" y="1066.15" text-anchor="end" font-family='"Liberation Sans", Arial, sans-serif' font-size="18.3" font-weight="bold">0.0</text>
<text class="tb" x="1471.8" y="984.65" text-anchor="end" font-family='"Liberation Sans", Arial, sans-serif' font-size="18.3" font-weight="bold">0.2</text>
<text class="tb" x="1471.8" y="903.15" text-anchor="end" font-family='"Liberation Sans", Arial, sans-serif' font-size="18.3" font-weight="bold">0.4</text>
<text class="tb" x="1471.8" y="821.65" text-anchor="end" font-family='"Liberation Sans", Arial, sans-serif' font-size="18.3" font-weight="bold">0.6</text>
<text class="tb" x="1486" y="1091.1" text-anchor="middle" font-family='"Liberation Sans", Arial, sans-serif' font-size="18.3" font-weight="bold">0</text>
<text class="tb" x="1577.65" y="1091.1" text-anchor="middle" font-family='"Liberation Sans", Arial, sans-serif' font-size="18.3" font-weight="bold">10</text>
<text class="tb" x="1669.3" y="1091.1" text-anchor="middle" font-family='"Liberation Sans", Arial, sans-serif' font-size="18.3" font-weight="bold">20</text>
<text class="tb" x="1760.95" y="1091.1" text-anchor="middle" font-family='"Liberation Sans", Arial, sans-serif' font-size="18.3" font-weight="bold">30</text>
<text class="tb" x="1852.6" y="1091.1" text-anchor="middle" font-family='"Liberation Sans", Arial, sans-serif' font-size="18.3" font-weight="bold">40</text>
<text class="sb" transform="translate(1433.6,1076.2) rotate(-90) scale(0.99965,1)" x="-0.2" y="0" font-family='"Liberation Serif", "Times New Roman", serif' font-size="27.2" font-weight="bold">fluorescence value (a.u.)</text>
<text class="sb" transform="scale(0.95896,1)" x="1674.82" y="1129.2" font-family='"Liberation Serif", "Times New Roman", serif' font-size="27.8" font-weight="bold" fill="#000">Time (min)</text>
<path d="M1795.6 846.9H1821.7" stroke="#0000FF" stroke-width="4"/>
<path d="M1804.65 844.02h8l-4 6.4z" fill="#0000FF"/>
<path d="M1795.6 910.8H1821.7" stroke="#FF0000" stroke-width="4"/>
<path d="M1804.65 913.68h8l-4 -6.4z" fill="#FF0000"/>
<path d="M1795.6 960.5H1821.7" stroke="#00BF00" stroke-width="4"/>
<rect x="1804.85" y="956.7" width="7.6" height="7.6" fill="#00BF00"/>
<text class="sb" x="1836.9" y="840.4" font-family='"Liberation Serif", "Times New Roman", serif' font-size="22.8" font-weight="bold">Wild-type DNA</text>
<text class="sb" x="1836.9" y="867.1" font-family='"Liberation Serif", "Times New Roman", serif' font-size="22.8" font-weight="bold">templates</text>
<text class="sb" x="1836.9" y="904.2" font-family='"Liberation Serif", "Times New Roman", serif' font-size="22.8" font-weight="bold">Mutant DNA</text>
<text class="sb" x="1836.9" y="930.3" font-family='"Liberation Serif", "Times New Roman", serif' font-size="22.8" font-weight="bold">templates</text>
<text class="sb" x="1836.9" y="967.4" font-family='"Liberation Serif", "Times New Roman", serif' font-size="22.8" font-weight="bold">NC</text>
<polyline points="1504.33,1043.4 1522.66,1043.81 1540.99,1043.81 1559.32,1044.22 1577.65,1043.81 1595.98,1043.81 1614.31,1042.59 1632.64,1043.4 1650.97,1043.4 1669.3,1043.4 1687.63,1043.4 1705.96,1043.4 1724.29,1043.4 1742.62,1043.4 1760.95,1043.81" fill="none" stroke="#00BF00" stroke-width="3.8" stroke-linejoin="round" stroke-linecap="butt"/>
<rect x="1500.53" y="1039.6" width="7.6" height="7.6" fill="#00BF00"/><rect x="1518.86" y="1040.01" width="7.6" height="7.6" fill="#00BF00"/><rect x="1537.19" y="1040.01" width="7.6" height="7.6" fill="#00BF00"/><rect x="1555.52" y="1040.42" width="7.6" height="7.6" fill="#00BF00"/><rect x="1573.85" y="1040.01" width="7.6" height="7.6" fill="#00BF00"/><rect x="1592.18" y="1040.01" width="7.6" height="7.6" fill="#00BF00"/><rect x="1610.51" y="1038.79" width="7.6" height="7.6" fill="#00BF00"/><rect x="1628.84" y="1039.6" width="7.6" height="7.6" fill="#00BF00"/><rect x="1647.17" y="1039.6" width="7.6" height="7.6" fill="#00BF00"/><rect x="1665.5" y="1039.6" width="7.6" height="7.6" fill="#00BF00"/><rect x="1683.83" y="1039.6" width="7.6" height="7.6" fill="#00BF00"/><rect x="1702.16" y="1039.6" width="7.6" height="7.6" fill="#00BF00"/><rect x="1720.49" y="1039.6" width="7.6" height="7.6" fill="#00BF00"/><rect x="1738.82" y="1039.6" width="7.6" height="7.6" fill="#00BF00"/><rect x="1757.15" y="1040.01" width="7.6" height="7.6" fill="#00BF00"/>
<polyline points="1504.33,1041.36 1522.66,1041.36 1540.99,1041.77 1559.32,1039.33 1577.65,1038.92 1595.98,1039.73 1614.31,1037.69 1632.64,1038.1 1650.97,1037.69 1669.3,1037.29 1687.63,1038.1 1705.96,1038.1 1724.29,1038.1 1742.62,1038.1 1760.95,1038.1" fill="none" stroke="#FF0000" stroke-width="3.8" stroke-linejoin="round" stroke-linecap="butt"/>
<path d="M1500.33 1044.24h8l-4 -6.4z" fill="#FF0000"/><path d="M1518.66 1044.24h8l-4 -6.4z" fill="#FF0000"/><path d="M1536.99 1044.65h8l-4 -6.4z" fill="#FF0000"/><path d="M1555.32 1042.21h8l-4 -6.4z" fill="#FF0000"/><path d="M1573.65 1041.8h8l-4 -6.4z" fill="#FF0000"/><path d="M1591.98 1042.61h8l-4 -6.4z" fill="#FF0000"/><path d="M1610.31 1040.58h8l-4 -6.4z" fill="#FF0000"/><path d="M1628.64 1040.98h8l-4 -6.4z" fill="#FF0000"/><path d="M1646.97 1040.58h8l-4 -6.4z" fill="#FF0000"/><path d="M1665.3 1040.17h8l-4 -6.4z" fill="#FF0000"/><path d="M1683.63 1040.98h8l-4 -6.4z" fill="#FF0000"/><path d="M1701.96 1040.98h8l-4 -6.4z" fill="#FF0000"/><path d="M1720.29 1040.98h8l-4 -6.4z" fill="#FF0000"/><path d="M1738.62 1040.98h8l-4 -6.4z" fill="#FF0000"/><path d="M1756.95 1040.98h8l-4 -6.4z" fill="#FF0000"/>
<path d="M1614.31 1039.05V1042.05M1610.41 1039.05h7.8M1610.41 1042.05h7.8M1632.64 1039.46V1042.46M1628.74 1039.46h7.8M1628.74 1042.46h7.8M1650.97 1037.73V1041.73M1647.07 1037.73h7.8M1647.07 1041.73h7.8M1669.3 1036.01V1041.01M1665.4 1036.01h7.8M1665.4 1041.01h7.8M1687.63 1034.69V1040.69M1683.73 1034.69h7.8M1683.73 1040.69h7.8M1705.96 1033.79V1040.79M1702.06 1033.79h7.8M1702.06 1040.79h7.8M1724.29 1032.47V1040.47M1720.39 1032.47h7.8M1720.39 1040.47h7.8M1742.62 1031.66V1039.66M1738.72 1031.66h7.8M1738.72 1039.66h7.8M1760.95 1030.85V1039.65M1757.05 1030.85h7.8M1757.05 1039.65h7.8" stroke="#0000FF" stroke-width="2.6" fill="none"/>
<polyline points="1504.33,1045.85 1522.66,1045.85 1540.99,1045.85 1559.32,1042.99 1577.65,1042.59 1595.98,1042.99 1614.31,1040.55 1632.64,1040.96 1650.97,1039.73 1669.3,1038.51 1687.63,1037.69 1705.96,1037.29 1724.29,1036.47 1742.62,1035.66 1760.95,1035.25" fill="none" stroke="#0000FF" stroke-width="3.8" stroke-linejoin="round" stroke-linecap="butt"/>
<path d="M1500.33 1042.96h8l-4 6.4z" fill="#0000FF"/><path d="M1518.66 1042.96h8l-4 6.4z" fill="#0000FF"/><path d="M1536.99 1042.96h8l-4 6.4z" fill="#0000FF"/><path d="M1555.32 1040.11h8l-4 6.4z" fill="#0000FF"/><path d="M1573.65 1039.7h8l-4 6.4z" fill="#0000FF"/><path d="M1591.98 1040.11h8l-4 6.4z" fill="#0000FF"/><path d="M1610.31 1037.67h8l-4 6.4z" fill="#0000FF"/><path d="M1628.64 1038.08h8l-4 6.4z" fill="#0000FF"/><path d="M1646.97 1036.85h8l-4 6.4z" fill="#0000FF"/><path d="M1665.3 1035.63h8l-4 6.4z" fill="#0000FF"/><path d="M1683.63 1034.81h8l-4 6.4z" fill="#0000FF"/><path d="M1701.96 1034.41h8l-4 6.4z" fill="#0000FF"/><path d="M1720.29 1033.59h8l-4 6.4z" fill="#0000FF"/><path d="M1738.62 1032.78h8l-4 6.4z" fill="#0000FF"/><path d="M1756.95 1032.37h8l-4 6.4z" fill="#0000FF"/>
<text class="sb" transform="scale(0.94561,1)" x="273.74" y="1196.7" font-family='"Liberation Serif", "Times New Roman", serif' font-size="27.6" font-weight="bold" fill="#000">Mutant crRNA -1</text>
<path d="M175.7 1228.4V1485.3M165.1 1474.5H543.9M165.1 1393H175.7M165.1 1311.5H175.7M165.1 1230H175.7M267.35 1474.5V1485.3M359 1474.5V1485.3M450.65 1474.5V1485.3M542.3 1474.5V1485.3" stroke="#000" stroke-width="3.3" fill="none"/>
<text class="tb" x="161.5" y="1480.95" text-anchor="end" font-family='"Liberation Sans", Arial, sans-serif' font-size="18.3" font-weight="bold">0.0</text>
<text class="tb" x="161.5" y="1399.45" text-anchor="end" font-family='"Liberation Sans", Arial, sans-serif' font-size="18.3" font-weight="bold">0.2</text>
<text class="tb" x="161.5" y="1317.95" text-anchor="end" font-family='"Liberation Sans", Arial, sans-serif' font-size="18.3" font-weight="bold">0.4</text>
<text class="tb" x="161.5" y="1236.45" text-anchor="end" font-family='"Liberation Sans", Arial, sans-serif' font-size="18.3" font-weight="bold">0.6</text>
<text class="tb" x="175.7" y="1505.9" text-anchor="middle" font-family='"Liberation Sans", Arial, sans-serif' font-size="18.3" font-weight="bold">0</text>
<text class="tb" x="267.35" y="1505.9" text-anchor="middle" font-family='"Liberation Sans", Arial, sans-serif' font-size="18.3" font-weight="bold">10</text>
<text class="tb" x="359" y="1505.9" text-anchor="middle" font-family='"Liberation Sans", Arial, sans-serif' font-size="18.3" font-weight="bold">20</text>
<text class="tb" x="450.65" y="1505.9" text-anchor="middle" font-family='"Liberation Sans", Arial, sans-serif' font-size="18.3" font-weight="bold">30</text>
<text class="tb" x="542.3" y="1505.9" text-anchor="middle" font-family='"Liberation Sans", Arial, sans-serif' font-size="18.3" font-weight="bold">40</text>
<text class="sb" transform="translate(123.3,1491) rotate(-90) scale(0.99965,1)" x="-0.2" y="0" font-family='"Liberation Serif", "Times New Roman", serif' font-size="27.2" font-weight="bold">fluorescence value (a.u.)</text>
<text class="sb" transform="scale(0.95896,1)" x="308.44" y="1544" font-family='"Liberation Serif", "Times New Roman", serif' font-size="27.8" font-weight="bold" fill="#000">Time (min)</text>
<path d="M485.3 1261.7H511.4" stroke="#0000FF" stroke-width="4"/>
<path d="M494.35 1258.82h8l-4 6.4z" fill="#0000FF"/>
<path d="M485.3 1325.6H511.4" stroke="#FF0000" stroke-width="4"/>
<path d="M494.35 1328.48h8l-4 -6.4z" fill="#FF0000"/>
<path d="M485.3 1375.3H511.4" stroke="#00BF00" stroke-width="4"/>
<rect x="494.55" y="1371.5" width="7.6" height="7.6" fill="#00BF00"/>
<text class="sb" x="526.6" y="1255.2" font-family='"Liberation Serif", "Times New Roman", serif' font-size="22.8" font-weight="bold">Wild-type DNA</text>
<text class="sb" x="526.6" y="1281.9" font-family='"Liberation Serif", "Times New Roman", serif' font-size="22.8" font-weight="bold">templates</text>
<text class="sb" x="526.6" y="1319" font-family='"Liberation Serif", "Times New Roman", serif' font-size="22.8" font-weight="bold">Mutant DNA</text>
<text class="sb" x="526.6" y="1345.1" font-family='"Liberation Serif", "Times New Roman", serif' font-size="22.8" font-weight="bold">templates</text>
<text class="sb" x="526.6" y="1382.2" font-family='"Liberation Serif", "Times New Roman", serif' font-size="22.8" font-weight="bold">NC</text>
<polyline points="194.03,1457.79 212.36,1457.79 230.69,1458.2 249.02,1457.79 267.35,1457.79 285.68,1457.79 304.01,1457.79 322.34,1457.79 340.67,1457.79 359,1457.79 377.33,1457.79 395.66,1457.79 413.99,1457.79 432.32,1457.38 450.65,1457.38" fill="none" stroke="#00BF00" stroke-width="3.8" stroke-linejoin="round" stroke-linecap="butt"/>
<rect x="190.23" y="1453.99" width="7.6" height="7.6" fill="#00BF00"/><rect x="208.56" y="1453.99" width="7.6" height="7.6" fill="#00BF00"/><rect x="226.89" y="1454.4" width="7.6" height="7.6" fill="#00BF00"/><rect x="245.22" y="1453.99" width="7.6" height="7.6" fill="#00BF00"/><rect x="263.55" y="1453.99" width="7.6" height="7.6" fill="#00BF00"/><rect x="281.88" y="1453.99" width="7.6" height="7.6" fill="#00BF00"/><rect x="300.21" y="1453.99" width="7.6" height="7.6" fill="#00BF00"/><rect x="318.54" y="1453.99" width="7.6" height="7.6" fill="#00BF00"/><rect x="336.87" y="1453.99" width="7.6" height="7.6" fill="#00BF00"/><rect x="355.2" y="1453.99" width="7.6" height="7.6" fill="#00BF00"/><rect x="373.53" y="1453.99" width="7.6" height="7.6" fill="#00BF00"/><rect x="391.86" y="1453.99" width="7.6" height="7.6" fill="#00BF00"/><rect x="410.19" y="1453.99" width="7.6" height="7.6" fill="#00BF00"/><rect x="428.52" y="1453.59" width="7.6" height="7.6" fill="#00BF00"/><rect x="446.85" y="1453.59" width="7.6" height="7.6" fill="#00BF00"/>
<path d="M194.03 1445.03V1452.63M190.13 1445.03h7.8M190.13 1452.63h7.8M212.36 1439.85V1448.85M208.46 1439.85h7.8M208.46 1448.85h7.8M230.69 1434.78V1446.58M226.79 1434.78h7.8M226.79 1446.58h7.8M249.02 1428.17V1441.77M245.12 1428.17h7.8M245.12 1441.77h7.8M267.35 1424.31V1438.31M263.45 1424.31h7.8M263.45 1438.31h7.8M285.68 1420.86V1436.86M281.78 1420.86h7.8M281.78 1436.86h7.8M304.01 1415.48V1433.28M300.11 1415.48h7.8M300.11 1433.28h7.8M322.34 1413.56V1432.75M318.44 1413.56h7.8M318.44 1432.75h7.8M340.67 1410.7V1429.9M336.77 1410.7h7.8M336.77 1429.9h7.8M359 1407.87V1428.67M355.1 1407.87h7.8M355.1 1428.67h7.8M377.33 1406.54V1427.54M373.43 1406.54h7.8M373.43 1427.54h7.8M395.66 1403.91V1426.11M391.76 1403.91h7.8M391.76 1426.11h7.8M413.99 1402.48V1425.08M410.09 1402.48h7.8M410.09 1425.08h7.8M432.32 1400.45V1423.85M428.42 1400.45h7.8M428.42 1423.85h7.8M450.65 1399.34V1423.34M446.75 1399.34h7.8M446.75 1423.34h7.8" stroke="#FF0000" stroke-width="2.6" fill="none"/>
<polyline points="194.03,1448.83 212.36,1444.35 230.69,1440.68 249.02,1434.97 267.35,1431.31 285.68,1428.86 304.01,1424.38 322.34,1423.15 340.67,1420.3 359,1418.27 377.33,1417.04 395.66,1415.01 413.99,1413.78 432.32,1412.15 450.65,1411.34" fill="none" stroke="#FF0000" stroke-width="3.8" stroke-linejoin="round" stroke-linecap="butt"/>
<path d="M190.03 1451.71h8l-4 -6.4z" fill="#FF0000"/><path d="M208.36 1447.23h8l-4 -6.4z" fill="#FF0000"/><path d="M226.69 1443.56h8l-4 -6.4z" fill="#FF0000"/><path d="M245.02 1437.85h8l-4 -6.4z" fill="#FF0000"/><path d="M263.35 1434.19h8l-4 -6.4z" fill="#FF0000"/><path d="M281.68 1431.74h8l-4 -6.4z" fill="#FF0000"/><path d="M300.01 1427.26h8l-4 -6.4z" fill="#FF0000"/><path d="M318.34 1426.04h8l-4 -6.4z" fill="#FF0000"/><path d="M336.67 1423.18h8l-4 -6.4z" fill="#FF0000"/><path d="M355 1421.15h8l-4 -6.4z" fill="#FF0000"/><path d="M373.33 1419.92h8l-4 -6.4z" fill="#FF0000"/><path d="M391.66 1417.89h8l-4 -6.4z" fill="#FF0000"/><path d="M409.99 1416.66h8l-4 -6.4z" fill="#FF0000"/><path d="M428.32 1415.03h8l-4 -6.4z" fill="#FF0000"/><path d="M446.65 1414.22h8l-4 -6.4z" fill="#FF0000"/>
<polyline points="194.03,1454.94 212.36,1454.94 230.69,1456.57 249.02,1454.94 267.35,1454.53 285.68,1455.35 304.01,1454.53 322.34,1455.35 340.67,1454.94 359,1454.94 377.33,1454.53 395.66,1454.53 413.99,1454.53 432.32,1454.12 450.65,1453.72" fill="none" stroke="#0000FF" stroke-width="3.8" stroke-linejoin="round" stroke-linecap="butt"/>
<path d="M190.03 1452.06h8l-4 6.4z" fill="#0000FF"/><path d="M208.36 1452.06h8l-4 6.4z" fill="#0000FF"/><path d="M226.69 1453.69h8l-4 6.4z" fill="#0000FF"/><path d="M245.02 1452.06h8l-4 6.4z" fill="#0000FF"/><path d="M263.35 1451.65h8l-4 6.4z" fill="#0000FF"/><path d="M281.68 1452.47h8l-4 6.4z" fill="#0000FF"/><path d="M300.01 1451.65h8l-4 6.4z" fill="#0000FF"/><path d="M318.34 1452.47h8l-4 6.4z" fill="#0000FF"/><path d="M336.67 1452.06h8l-4 6.4z" fill="#0000FF"/><path d="M355 1452.06h8l-4 6.4z" fill="#0000FF"/><path d="M373.33 1451.65h8l-4 6.4z" fill="#0000FF"/><path d="M391.66 1451.65h8l-4 6.4z" fill="#0000FF"/><path d="M409.99 1451.65h8l-4 6.4z" fill="#0000FF"/><path d="M428.32 1451.24h8l-4 6.4z" fill="#0000FF"/><path d="M446.65 1450.84h8l-4 6.4z" fill="#0000FF"/>
<rect x="899" y="1162" width="230" height="49.3" fill="none" stroke="#FF0000" stroke-width="3.6" stroke-dasharray="6.9 12.8" stroke-dashoffset="6.4" stroke-linecap="round"/>
<text class="sb" transform="scale(0.94931,1)" x="961.59" y="1196.7" font-family='"Liberation Serif", "Times New Roman", serif' font-size="27.6" font-weight="bold" fill="#000">Mutant crRNA -2</text>
<path d="M828.7 1228.5V1485.4M818.1 1474.6H1196.9M818.1 1393.1H828.7M818.1 1311.6H828.7M818.1 1230.1H828.7M920.35 1474.6V1485.4M1012 1474.6V1485.4M1103.65 1474.6V1485.4M1195.3 1474.6V1485.4" stroke="#000" stroke-width="3.3" fill="none"/>
<text class="tb" x="814.5" y="1481.05" text-anchor="end" font-family='"Liberation Sans", Arial, sans-serif' font-size="18.3" font-weight="bold">0.0</text>
<text class="tb" x="814.5" y="1399.55" text-anchor="end" font-family='"Liberation Sans", Arial, sans-serif' font-size="18.3" font-weight="bold">0.2</text>
<text class="tb" x="814.5" y="1318.05" text-anchor="end" font-family='"Liberation Sans", Arial, sans-serif' font-size="18.3" font-weight="bold">0.4</text>
<text class="tb" x="814.5" y="1236.55" text-anchor="end" font-family='"Liberation Sans", Arial, sans-serif' font-size="18.3" font-weight="bold">0.6</text>
<text class="tb" x="828.7" y="1506" text-anchor="middle" font-family='"Liberation Sans", Arial, sans-serif' font-size="18.3" font-weight="bold">0</text>
<text class="tb" x="920.35" y="1506" text-anchor="middle" font-family='"Liberation Sans", Arial, sans-serif' font-size="18.3" font-weight="bold">10</text>
<text class="tb" x="1012" y="1506" text-anchor="middle" font-family='"Liberation Sans", Arial, sans-serif' font-size="18.3" font-weight="bold">20</text>
<text class="tb" x="1103.65" y="1506" text-anchor="middle" font-family='"Liberation Sans", Arial, sans-serif' font-size="18.3" font-weight="bold">30</text>
<text class="tb" x="1195.3" y="1506" text-anchor="middle" font-family='"Liberation Sans", Arial, sans-serif' font-size="18.3" font-weight="bold">40</text>
<text class="sb" transform="translate(776.3,1491.1) rotate(-90) scale(0.99965,1)" x="-0.2" y="0" font-family='"Liberation Serif", "Times New Roman", serif' font-size="27.2" font-weight="bold">fluorescence value (a.u.)</text>
<text class="sb" transform="scale(0.95896,1)" x="989.39" y="1544.1" font-family='"Liberation Serif", "Times New Roman", serif' font-size="27.8" font-weight="bold" fill="#000">Time (min)</text>
<path d="M1138.3 1261.8H1164.4" stroke="#0000FF" stroke-width="4"/>
<path d="M1147.35 1258.92h8l-4 6.4z" fill="#0000FF"/>
<path d="M1138.3 1325.7H1164.4" stroke="#FF0000" stroke-width="4"/>
<path d="M1147.35 1328.58h8l-4 -6.4z" fill="#FF0000"/>
<path d="M1138.3 1375.4H1164.4" stroke="#00BF00" stroke-width="4"/>
<rect x="1147.55" y="1371.6" width="7.6" height="7.6" fill="#00BF00"/>
<text class="sb" x="1179.6" y="1255.3" font-family='"Liberation Serif", "Times New Roman", serif' font-size="22.8" font-weight="bold">Wild-type DNA</text>
<text class="sb" x="1179.6" y="1282" font-family='"Liberation Serif", "Times New Roman", serif' font-size="22.8" font-weight="bold">templates</text>
<text class="sb" x="1179.6" y="1319.1" font-family='"Liberation Serif", "Times New Roman", serif' font-size="22.8" font-weight="bold">Mutant DNA</text>
<text class="sb" x="1179.6" y="1345.2" font-family='"Liberation Serif", "Times New Roman", serif' font-size="22.8" font-weight="bold">templates</text>
<text class="sb" x="1179.6" y="1382.3" font-family='"Liberation Serif", "Times New Roman", serif' font-size="22.8" font-weight="bold">NC</text>
<polyline points="847.03,1450.96 865.36,1451.37 883.69,1452.19 902.02,1451.37 920.35,1451.78 938.68,1452.19 957.01,1451.37 975.34,1451.37 993.67,1451.37 1012,1451.37 1030.33,1451.37 1048.66,1451.37 1066.99,1451.37 1085.32,1451.37 1103.65,1451.37" fill="none" stroke="#00BF00" stroke-width="3.8" stroke-linejoin="round" stroke-linecap="butt"/>
<rect x="843.23" y="1447.16" width="7.6" height="7.6" fill="#00BF00"/><rect x="861.56" y="1447.57" width="7.6" height="7.6" fill="#00BF00"/><rect x="879.89" y="1448.39" width="7.6" height="7.6" fill="#00BF00"/><rect x="898.22" y="1447.57" width="7.6" height="7.6" fill="#00BF00"/><rect x="916.55" y="1447.98" width="7.6" height="7.6" fill="#00BF00"/><rect x="934.88" y="1448.39" width="7.6" height="7.6" fill="#00BF00"/><rect x="953.21" y="1447.57" width="7.6" height="7.6" fill="#00BF00"/><rect x="971.54" y="1447.57" width="7.6" height="7.6" fill="#00BF00"/><rect x="989.87" y="1447.57" width="7.6" height="7.6" fill="#00BF00"/><rect x="1008.2" y="1447.57" width="7.6" height="7.6" fill="#00BF00"/><rect x="1026.53" y="1447.57" width="7.6" height="7.6" fill="#00BF00"/><rect x="1044.86" y="1447.57" width="7.6" height="7.6" fill="#00BF00"/><rect x="1063.19" y="1447.57" width="7.6" height="7.6" fill="#00BF00"/><rect x="1081.52" y="1447.57" width="7.6" height="7.6" fill="#00BF00"/><rect x="1099.85" y="1447.57" width="7.6" height="7.6" fill="#00BF00"/>
<path d="M883.69 1407.4V1411.4M879.79 1407.4h7.8M879.79 1411.4h7.8M902.02 1383.5V1392.1M898.12 1383.5h7.8M898.12 1392.1h7.8M920.35 1362.63V1373.03M916.45 1362.63h7.8M916.45 1373.03h7.8M938.68 1342.68V1354.68M934.78 1342.68h7.8M934.78 1354.68h7.8M957.01 1322.43V1336.63M953.11 1322.43h7.8M953.11 1336.63h7.8M975.34 1307.87V1322.67M971.44 1307.87h7.8M971.44 1322.67h7.8M993.67 1293.82V1309.82M989.77 1293.82h7.8M989.77 1309.82h7.8M1012 1281.41V1299.41M1008.1 1281.41h7.8M1008.1 1299.41h7.8M1030.33 1271.63V1289.63M1026.43 1271.63h7.8M1026.43 1289.63h7.8M1048.66 1261.96V1280.56M1044.76 1261.96h7.8M1044.76 1280.56h7.8M1066.99 1255.85V1274.44M1063.09 1255.85h7.8M1063.09 1274.44h7.8M1085.32 1249.85V1269.85M1081.42 1249.85h7.8M1081.42 1269.85h7.8M1103.65 1245.77V1265.77M1099.75 1245.77h7.8M1099.75 1265.77h7.8" stroke="#FF0000" stroke-width="2.6" fill="none"/>
<polyline points="847.03,1442.41 865.36,1427.33 883.69,1409.4 902.02,1387.8 920.35,1367.83 938.68,1348.68 957.01,1329.53 975.34,1315.27 993.67,1301.82 1012,1290.41 1030.33,1280.63 1048.66,1271.26 1066.99,1265.14 1085.32,1259.85 1103.65,1255.77" fill="none" stroke="#FF0000" stroke-width="3.8" stroke-linejoin="round" stroke-linecap="butt"/>
<path d="M843.03 1445.29h8l-4 -6.4z" fill="#FF0000"/><path d="M861.36 1430.21h8l-4 -6.4z" fill="#FF0000"/><path d="M879.69 1412.28h8l-4 -6.4z" fill="#FF0000"/><path d="M898.02 1390.68h8l-4 -6.4z" fill="#FF0000"/><path d="M916.35 1370.71h8l-4 -6.4z" fill="#FF0000"/><path d="M934.68 1351.56h8l-4 -6.4z" fill="#FF0000"/><path d="M953.01 1332.41h8l-4 -6.4z" fill="#FF0000"/><path d="M971.34 1318.15h8l-4 -6.4z" fill="#FF0000"/><path d="M989.67 1304.7h8l-4 -6.4z" fill="#FF0000"/><path d="M1008 1293.29h8l-4 -6.4z" fill="#FF0000"/><path d="M1026.33 1283.51h8l-4 -6.4z" fill="#FF0000"/><path d="M1044.66 1274.14h8l-4 -6.4z" fill="#FF0000"/><path d="M1062.99 1268.03h8l-4 -6.4z" fill="#FF0000"/><path d="M1081.32 1262.73h8l-4 -6.4z" fill="#FF0000"/><path d="M1099.65 1258.65h8l-4 -6.4z" fill="#FF0000"/>
<polyline points="847.03,1455.04 865.36,1455.04 883.69,1454.22 902.02,1452.19 920.35,1451.37 938.68,1451.37 957.01,1449.33 975.34,1449.33 993.67,1448.93 1012,1448.52 1030.33,1447.7 1048.66,1446.48 1066.99,1446.48 1085.32,1446.07 1103.65,1445.26" fill="none" stroke="#0000FF" stroke-width="3.8" stroke-linejoin="round" stroke-linecap="butt"/>
<path d="M843.03 1452.16h8l-4 6.4z" fill="#0000FF"/><path d="M861.36 1452.16h8l-4 6.4z" fill="#0000FF"/><path d="M879.69 1451.34h8l-4 6.4z" fill="#0000FF"/><path d="M898.02 1449.31h8l-4 6.4z" fill="#0000FF"/><path d="M916.35 1448.49h8l-4 6.4z" fill="#0000FF"/><path d="M934.68 1448.49h8l-4 6.4z" fill="#0000FF"/><path d="M953.01 1446.45h8l-4 6.4z" fill="#0000FF"/><path d="M971.34 1446.45h8l-4 6.4z" fill="#0000FF"/><path d="M989.67 1446.05h8l-4 6.4z" fill="#0000FF"/><path d="M1008 1445.64h8l-4 6.4z" fill="#0000FF"/><path d="M1026.33 1444.82h8l-4 6.4z" fill="#0000FF"/><path d="M1044.66 1443.6h8l-4 6.4z" fill="#0000FF"/><path d="M1062.99 1443.6h8l-4 6.4z" fill="#0000FF"/><path d="M1081.32 1443.19h8l-4 6.4z" fill="#0000FF"/><path d="M1099.65 1442.38h8l-4 6.4z" fill="#0000FF"/>
<text class="sb" transform="scale(0.95075,1)" x="1651.38" y="1196.1" font-family='"Liberation Serif", "Times New Roman", serif' font-size="27.6" font-weight="bold" fill="#000">Mutant crRNA -2</text>
<path d="M1486 1228.1V1485M1475.4 1474.2H1854.2M1475.4 1392.7H1486M1475.4 1311.2H1486M1475.4 1229.7H1486M1577.65 1474.2V1485M1669.3 1474.2V1485M1760.95 1474.2V1485M1852.6 1474.2V1485" stroke="#000" stroke-width="3.3" fill="none"/>
<text class="tb" x="1471.8" y="1480.65" text-anchor="end" font-family='"Liberation Sans", Arial, sans-serif' font-size="18.3" font-weight="bold">0.0</text>
<text class="tb" x="1471.8" y="1399.15" text-anchor="end" font-family='"Liberation Sans", Arial, sans-serif' font-size="18.3" font-weight="bold">0.2</text>
<text class="tb" x="1471.8" y="1317.65" text-anchor="end" font-family='"Liberation Sans", Arial, sans-serif' font-size="18.3" font-weight="bold">0.4</text>
<text class="tb" x="1471.8" y="1236.15" text-anchor="end" font-family='"Liberation Sans", Arial, sans-serif' font-size="18.3" font-weight="bold">0.6</text>
<text class="tb" x="1486" y="1505.6" text-anchor="middle" font-family='"Liberation Sans", Arial, sans-serif' font-size="18.3" font-weight="bold">0</text>
<text class="tb" x="1577.65" y="1505.6" text-anchor="middle" font-family='"Liberation Sans", Arial, sans-serif' font-size="18.3" font-weight="bold">10</text>
<text class="tb" x="1669.3" y="1505.6" text-anchor="middle" font-family='"Liberation Sans", Arial, sans-serif' font-size="18.3" font-weight="bold">20</text>
<text class="tb" x="1760.95" y="1505.6" text-anchor="middle" font-family='"Liberation Sans", Arial, sans-serif' font-size="18.3" font-weight="bold">30</text>
<text class="tb" x="1852.6" y="1505.6" text-anchor="middle" font-family='"Liberation Sans", Arial, sans-serif' font-size="18.3" font-weight="bold">40</text>
<text class="sb" transform="translate(1433.6,1490.7) rotate(-90) scale(0.99965,1)" x="-0.2" y="0" font-family='"Liberation Serif", "Times New Roman", serif' font-size="27.2" font-weight="bold">fluorescence value (a.u.)</text>
<text class="sb" transform="scale(0.95896,1)" x="1674.82" y="1543.7" font-family='"Liberation Serif", "Times New Roman", serif' font-size="27.8" font-weight="bold" fill="#000">Time (min)</text>
<path d="M1795.6 1261.4H1821.7" stroke="#0000FF" stroke-width="4"/>
<path d="M1804.65 1258.52h8l-4 6.4z" fill="#0000FF"/>
<path d="M1795.6 1325.3H1821.7" stroke="#FF0000" stroke-width="4"/>
<path d="M1804.65 1328.18h8l-4 -6.4z" fill="#FF0000"/>
<path d="M1795.6 1375H1821.7" stroke="#00BF00" stroke-width="4"/>
<rect x="1804.85" y="1371.2" width="7.6" height="7.6" fill="#00BF00"/>
<text class="sb" x="1836.9" y="1254.9" font-family='"Liberation Serif", "Times New Roman", serif' font-size="22.8" font-weight="bold">Wild-type DNA</text>
<text class="sb" x="1836.9" y="1281.6" font-family='"Liberation Serif", "Times New Roman", serif' font-size="22.8" font-weight="bold">templates</text>
<text class="sb" x="1836.9" y="1318.7" font-family='"Liberation Serif", "Times New Roman", serif' font-size="22.8" font-weight="bold">Mutant DNA</text>
<text class="sb" x="1836.9" y="1344.8" font-family='"Liberation Serif", "Times New Roman", serif' font-size="22.8" font-weight="bold">templates</text>
<text class="sb" x="1836.9" y="1381.9" font-family='"Liberation Serif", "Times New Roman", serif' font-size="22.8" font-weight="bold">NC</text>
<polyline points="1504.33,1457.09 1522.66,1455.86 1540.99,1455.86 1559.32,1454.23 1577.65,1454.64 1595.98,1455.05 1614.31,1453.42 1632.64,1454.23 1650.97,1454.23 1669.3,1454.23 1687.63,1454.23 1705.96,1454.23 1724.29,1454.23 1742.62,1454.23 1760.95,1454.23" fill="none" stroke="#00BF00" stroke-width="3.8" stroke-linejoin="round" stroke-linecap="butt"/>
<rect x="1500.53" y="1453.29" width="7.6" height="7.6" fill="#00BF00"/><rect x="1518.86" y="1452.06" width="7.6" height="7.6" fill="#00BF00"/><rect x="1537.19" y="1452.06" width="7.6" height="7.6" fill="#00BF00"/><rect x="1555.52" y="1450.43" width="7.6" height="7.6" fill="#00BF00"/><rect x="1573.85" y="1450.84" width="7.6" height="7.6" fill="#00BF00"/><rect x="1592.18" y="1451.25" width="7.6" height="7.6" fill="#00BF00"/><rect x="1610.51" y="1449.62" width="7.6" height="7.6" fill="#00BF00"/><rect x="1628.84" y="1450.43" width="7.6" height="7.6" fill="#00BF00"/><rect x="1647.17" y="1450.43" width="7.6" height="7.6" fill="#00BF00"/><rect x="1665.5" y="1450.43" width="7.6" height="7.6" fill="#00BF00"/><rect x="1683.83" y="1450.43" width="7.6" height="7.6" fill="#00BF00"/><rect x="1702.16" y="1450.43" width="7.6" height="7.6" fill="#00BF00"/><rect x="1720.49" y="1450.43" width="7.6" height="7.6" fill="#00BF00"/><rect x="1738.82" y="1450.43" width="7.6" height="7.6" fill="#00BF00"/><rect x="1757.15" y="1450.43" width="7.6" height="7.6" fill="#00BF00"/>
<path d="M1559.32 1440.01V1444.01M1555.42 1440.01h7.8M1555.42 1444.01h7.8M1577.65 1435.03V1440.03M1573.75 1435.03h7.8M1573.75 1440.03h7.8M1595.98 1430.86V1436.86M1592.08 1430.86h7.8M1592.08 1436.86h7.8M1614.31 1422.52V1430.52M1610.41 1422.52h7.8M1610.41 1430.52h7.8M1632.64 1419.17V1428.17M1628.74 1419.17h7.8M1628.74 1428.17h7.8M1650.97 1414.89V1424.3M1647.07 1414.89h7.8M1647.07 1424.3h7.8M1669.3 1409.61V1420.61M1665.4 1409.61h7.8M1665.4 1420.61h7.8M1687.63 1405.04V1417.04M1683.73 1405.04h7.8M1683.73 1417.04h7.8M1705.96 1400.56V1413.36M1702.06 1400.56h7.8M1702.06 1413.36h7.8M1724.29 1397.31V1410.91M1720.39 1397.31h7.8M1720.39 1410.91h7.8M1742.62 1393.85V1407.85M1738.72 1393.85h7.8M1738.72 1407.85h7.8M1760.95 1390.7V1406.11M1757.05 1390.7h7.8M1757.05 1406.11h7.8" stroke="#FF0000" stroke-width="2.6" fill="none"/>
<polyline points="1504.33,1452.6 1522.66,1449.34 1540.99,1447.71 1559.32,1442.01 1577.65,1437.53 1595.98,1433.86 1614.31,1426.52 1632.64,1423.67 1650.97,1419.6 1669.3,1415.11 1687.63,1411.04 1705.96,1406.96 1724.29,1404.11 1742.62,1400.85 1760.95,1398.4" fill="none" stroke="#FF0000" stroke-width="3.8" stroke-linejoin="round" stroke-linecap="butt"/>
<path d="M1500.33 1455.48h8l-4 -6.4z" fill="#FF0000"/><path d="M1518.66 1452.22h8l-4 -6.4z" fill="#FF0000"/><path d="M1536.99 1450.59h8l-4 -6.4z" fill="#FF0000"/><path d="M1555.32 1444.89h8l-4 -6.4z" fill="#FF0000"/><path d="M1573.65 1440.41h8l-4 -6.4z" fill="#FF0000"/><path d="M1591.98 1436.74h8l-4 -6.4z" fill="#FF0000"/><path d="M1610.31 1429.4h8l-4 -6.4z" fill="#FF0000"/><path d="M1628.64 1426.55h8l-4 -6.4z" fill="#FF0000"/><path d="M1646.97 1422.48h8l-4 -6.4z" fill="#FF0000"/><path d="M1665.3 1417.99h8l-4 -6.4z" fill="#FF0000"/><path d="M1683.63 1413.92h8l-4 -6.4z" fill="#FF0000"/><path d="M1701.96 1409.84h8l-4 -6.4z" fill="#FF0000"/><path d="M1720.29 1406.99h8l-4 -6.4z" fill="#FF0000"/><path d="M1738.62 1403.73h8l-4 -6.4z" fill="#FF0000"/><path d="M1756.95 1401.29h8l-4 -6.4z" fill="#FF0000"/>
<polyline points="1504.33,1458.72 1522.66,1458.31 1540.99,1459.94 1559.32,1457.9 1577.65,1457.9 1595.98,1458.72 1614.31,1457.49 1632.64,1458.31 1650.97,1458.31 1669.3,1458.31 1687.63,1458.31 1705.96,1458.31 1724.29,1458.31 1742.62,1458.31 1760.95,1458.31" fill="none" stroke="#0000FF" stroke-width="3.8" stroke-linejoin="round" stroke-linecap="butt"/>
<path d="M1500.33 1455.84h8l-4 6.4z" fill="#0000FF"/><path d="M1518.66 1455.43h8l-4 6.4z" fill="#0000FF"/><path d="M1536.99 1457.06h8l-4 6.4z" fill="#0000FF"/><path d="M1555.32 1455.02h8l-4 6.4z" fill="#0000FF"/><path d="M1573.65 1455.02h8l-4 6.4z" fill="#0000FF"/><path d="M1591.98 1455.84h8l-4 6.4z" fill="#0000FF"/><path d="M1610.31 1454.61h8l-4 6.4z" fill="#0000FF"/><path d="M1628.64 1455.43h8l-4 6.4z" fill="#0000FF"/><path d="M1646.97 1455.43h8l-4 6.4z" fill="#0000FF"/><path d="M1665.3 1455.43h8l-4 6.4z" fill="#0000FF"/><path d="M1683.63 1455.43h8l-4 6.4z" fill="#0000FF"/><path d="M1701.96 1455.43h8l-4 6.4z" fill="#0000FF"/><path d="M1720.29 1455.43h8l-4 6.4z" fill="#0000FF"/><path d="M1738.62 1455.43h8l-4 6.4z" fill="#0000FF"/><path d="M1756.95 1455.43h8l-4 6.4z" fill="#0000FF"/>
</g>
</svg></body></html>
